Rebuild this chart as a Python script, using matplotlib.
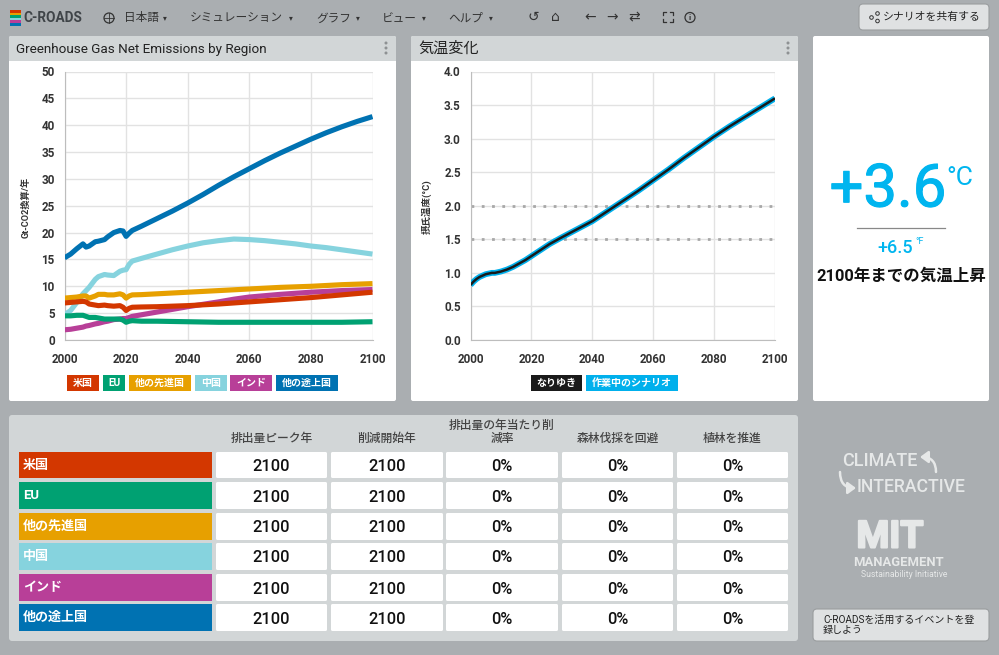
import matplotlib
matplotlib.use('Agg')
import matplotlib.pyplot as plt
import matplotlib.patheffects as pe
from matplotlib.patches import Rectangle, FancyBboxPatch, Circle, FancyArrowPatch

plt.rcParams['font.family'] = ['Roboto', 'Noto Sans CJK JP', 'DejaVu Sans']

W, H = 999, 655
BG = '#aaaeb1'
HEAD = '#d2d6d7'

# emissions data
years = [2000, 2002, 2004, 2006, 2007, 2008, 2010, 2011, 2013, 2014, 2016, 2018, 2019, 2020, 2021, 2022,
         2025, 2030, 2035, 2040, 2045, 2050, 2055, 2060, 2065, 2070, 2075, 2080, 2085, 2090, 2095, 2100]
developing = [15.3, 16.0, 17.0, 17.9, 17.3, 17.5, 18.3, 18.4, 18.7, 19.2, 20.0, 20.4, 20.3, 19.3, 19.9, 20.4,
              21.2, 22.6, 24.0, 25.5, 27.1, 28.8, 30.4, 31.9, 33.4, 34.8, 36.1, 37.4, 38.6, 39.7, 40.7, 41.6]
china = [4.7, 5.5, 7.0, 8.6, 9.2, 9.8, 11.3, 11.8, 12.2, 12.1, 12.0, 12.8, 13.0, 13.1, 14.1, 14.7,
         15.2, 16.0, 16.8, 17.5, 18.1, 18.5, 18.8, 18.7, 18.5, 18.2, 17.9, 17.5, 17.2, 16.8, 16.4, 16.0]
other_dev = [7.8, 7.9, 8.0, 8.2, 8.2, 7.8, 8.2, 8.5, 8.5, 8.4, 8.4, 8.6, 8.4, 7.8, 8.2, 8.4,
             8.45, 8.6, 8.75, 8.9, 9.05, 9.2, 9.35, 9.5, 9.65, 9.8, 9.9, 10.0, 10.15, 10.3, 10.4, 10.5]
usa = [6.9, 7.0, 7.1, 7.2, 7.1, 6.7, 6.5, 6.4, 6.5, 6.4, 6.3, 6.4, 6.1, 5.5, 5.9, 6.1,
       6.15, 6.2, 6.3, 6.4, 6.55, 6.7, 6.9, 7.1, 7.3, 7.5, 7.7, 7.9, 8.15, 8.4, 8.65, 8.9]
eu = [4.5, 4.5, 4.6, 4.6, 4.4, 4.2, 4.2, 4.1, 3.9, 3.9, 3.9, 3.9, 3.7, 3.3, 3.5, 3.6,
      3.5, 3.5, 3.45, 3.4, 3.35, 3.3, 3.3, 3.3, 3.3, 3.3, 3.3, 3.3, 3.3, 3.3, 3.35, 3.4]
india = [1.9, 2.0, 2.2, 2.4, 2.6, 2.7, 3.0, 3.1, 3.4, 3.5, 3.8, 3.9, 4.0, 4.0, 4.2, 4.4,
         4.7, 5.2, 5.7, 6.2, 6.65, 7.1, 7.6, 8.0, 8.25, 8.5, 8.7, 8.9, 9.05, 9.2, 9.3, 9.4]

# temperature data
temp_years = [2000, 2001, 2002, 2003, 2004, 2005, 2006, 2007, 2008, 2009, 2010, 2012, 2014, 2016, 2018, 2020,
              2022, 2024, 2026, 2028, 2030, 2035, 2040, 2045, 2050, 2055, 2060, 2065, 2070, 2075, 2080, 2085,
              2090, 2095, 2100]
temp = [0.82, 0.87, 0.91, 0.94, 0.96, 0.98, 0.99, 1.00, 1.00, 1.01, 1.02, 1.05, 1.09, 1.14, 1.19, 1.25,
        1.31, 1.37, 1.43, 1.48, 1.53, 1.65, 1.77, 1.92, 2.07, 2.22, 2.38, 2.54, 2.71, 2.87, 3.03, 3.18,
        3.32, 3.46, 3.60]

regions = ['米国', 'EU', '他の先進国', '中国', 'インド', '他の途上国']
region_colors = ['#d33700', '#00a172', '#e7a000', '#86d3de', '#b83f98', '#0072b2']
region_series = [usa, eu, other_dev, china, india, developing]
draw_order = [5, 3, 4, 2, 0, 1]

columns = ['排出量ピーク年', '削減開始年', '排出量の年当たり削\n減率', '森林伐採を回避', '植林を推進']
peak_year = [2100] * 6
start_year = [2100] * 6
reduction = [0] * 6
deforest = [0] * 6
afforest = [0] * 6

menus = ['日本語', 'シミュレーション', 'グラフ', 'ビュー', 'ヘルプ']
menu_x = [124, 190, 316, 382, 448]
caret_x = [165, 291, 358, 424, 491]

fig = plt.figure(figsize=(W / 100, H / 100), dpi=100, facecolor=BG)
bg = fig.add_axes([0, 0, 1, 1])
bg.set_xlim(0, W)
bg.set_ylim(H, 0)
bg.axis('off')


def box(x0, y0, x1, y1, color, rounded=2, ec='none', z=1):
    p = FancyBboxPatch((x0 + rounded, y0 + rounded), x1 - x0 - 2 * rounded, y1 - y0 - 2 * rounded,
                       boxstyle=f'round,pad={rounded}', fc=color, ec=ec, lw=0.8, zorder=z)
    bg.add_patch(p)


def axes_px(x0, y0, x1, y1):
    return fig.add_axes([x0 / W, 1 - y1 / H, (x1 - x0) / W, (y1 - y0) / H])


def style_chart(ax, ylim, yticks, ylabels, ylabel, label_x, label_size):
    ax.set_xlim(2000, 2100)
    ax.set_ylim(*ylim)
    ax.set_xticks(range(2000, 2101, 20))
    ax.set_yticks(yticks, ylabels)
    ax.grid(True, color='#e2e2e2', lw=1)
    ax.set_axisbelow(True)
    ax.patch.set_alpha(0)
    for s in ['top', 'right']:
        ax.spines[s].set_visible(False)
    for s in ['left', 'bottom']:
        ax.spines[s].set_color('#bdbdbd')
    ax.tick_params(length=0, labelsize=8.4, labelcolor='#333333')
    ax.tick_params(axis='x', pad=9.3)
    ax.tick_params(axis='y', pad=7)
    for t in ax.get_xticklabels() + ax.get_yticklabels():
        t.set_fontweight('bold')
    bg.text(label_x, 207, ylabel, rotation=90, ha='center', va='center', fontsize=label_size, color='#333333',
            fontweight='bold')


def legend_row(items, y0=375, y1=391):
    for x0, x1, label, color in items:
        bg.add_patch(Rectangle((x0, y0), x1 - x0, y1 - y0, fc=color, ec='none', zorder=3))
        bg.text((x0 + x1) / 2, (y0 + y1) / 2, label, ha='center', va='center', color='white',
                fontsize=7.2, fontweight='bold', zorder=4)


# top bar
for i, c in enumerate(['#d33700', '#e7a000', '#00a172', '#86d3de', '#b83f98', '#0072b2']):
    bg.add_patch(Rectangle((10, 10 + i * 2.6), 11, 2.6, fc=c, ec='none'))
bg.text(23, 17.5, 'C-ROADS', fontsize=9.8, color='#3f4448', va='center', fontweight='bold')
bg.add_patch(Circle((109, 18), 5, fc='none', ec='#333333', lw=0.9))
bg.plot([104, 114], [18, 18], color='#333333', lw=0.6)
bg.plot([109, 109], [13, 23], color='#333333', lw=0.6)
for x, cx, label in zip(menu_x, caret_x, menus):
    bg.text(x, 18, label, fontsize=8.4, color='#333333', va='center')
    bg.text(cx, 18, '▾', fontsize=5.5, color='#333333', va='center', ha='center', family='DejaVu Sans')

# toolbar icons
for x, label in zip([533, 555, 590, 612, 634], ['↺', '⌂', '←', '→', '⇄']):
    bg.text(x, 17, label, fontsize=10, ha='center', va='center', color='#333333', family='DejaVu Sans')
for sx in (-1, 1):
    for sy in (-1, 1):
        bg.plot([668 + sx * 5, 668 + sx * 5, 668 + sx * 2], [17 + sy * 2, 17 + sy * 5, 17 + sy * 5],
                color='#333333', lw=0.9)
bg.add_patch(Circle((690, 17.5), 5, fc='none', ec='#333333', lw=0.9))
bg.text(690, 17.5, 'i', fontsize=6, ha='center', va='center', color='#333333', fontweight='bold')

box(859, 4, 989, 30, '#dfe1e2', rounded=4, ec='#9a9d9f')
bg.add_patch(Circle((871.5, 17.5), 1.8, fc='none', ec='#333333', lw=0.7, zorder=3))
bg.add_patch(Circle((877.5, 13.5), 1.8, fc='none', ec='#333333', lw=0.7, zorder=3))
bg.add_patch(Circle((877.5, 21), 1.8, fc='none', ec='#333333', lw=0.7, zorder=3))
bg.text(932, 17, 'シナリオを共有する', fontsize=7.8, color='#222222', ha='center', va='center', zorder=3)

# chart panels
for x0, x1, title, fs in [(9, 396, 'Greenhouse Gas Net Emissions by Region', 9.7), (411, 798, '気温変化', 10.9)]:
    box(x0, 36, x1, 401, 'white', rounded=2)
    box(x0, 36, x1, 60, HEAD, rounded=2, z=1.1)
    bg.add_patch(Rectangle((x0, 56), x1 - x0, 5, fc=HEAD, ec='none', zorder=1.1))
    bg.text(x0 + 7, 49, title, fontsize=fs, color='#222222', va='center', zorder=2)
    for dy in [43, 48, 53]:
        bg.add_patch(Circle((x1 - 10, dy), 1.5, fc='#8e9193', ec='none', zorder=2))

# emissions chart
ax1 = axes_px(64.5, 71.5, 372.5, 340)
style_chart(ax1, (0, 50), range(0, 51, 5), [str(v) for v in range(0, 51, 5)], 'Gt-CO2換算/年', 26, 6.6)
for i in draw_order:
    ax1.plot(years, region_series[i], color=region_colors[i], lw=3.7, solid_capstyle='butt', zorder=3)

legend_row([(67, 99, '米国', region_colors[0]), (103, 125, 'EU', region_colors[1]),
            (129, 191, '他の先進国', region_colors[2]), (195, 227, '中国', region_colors[3]),
            (230, 272, 'インド', region_colors[4]), (276, 338, '他の途上国', region_colors[5])])

# temperature chart
ax2 = axes_px(470.5, 71.5, 775, 340)
style_chart(ax2, (0, 4), [0, 0.5, 1, 1.5, 2, 2.5, 3, 3.5, 4],
            ['0.0', '0.5', '1.0', '1.5', '2.0', '2.5', '3.0', '3.5', '4.0'], '摂氏温度(°C)', 427, 6.8)
ax2.axhline(1.5, color='#a8a8a8', lw=2, ls=(0, (1, 2.7)), zorder=2)
ax2.axhline(2.0, color='#a8a8a8', lw=2, ls=(0, (1, 2.7)), zorder=2)
ax2.plot(temp_years, temp, color='#00b0ec', lw=4.2, solid_capstyle='butt', zorder=3)
ax2.plot(temp_years, temp, color='#1a1a1a', lw=1.8, solid_capstyle='butt', zorder=4)
legend_row([(531, 582, 'なりゆき', '#1a1a1a'), (586, 678, '作業中のシナリオ', '#00b0ec')])

# big temperature panel
box(813, 36, 989, 401, 'white', rounded=2)
big = bg.text(888, 190, '+3.6', fontsize=43, color='#00b5ef', ha='center', va='center', zorder=3)
big.set_path_effects([pe.withStroke(linewidth=0.8, foreground='#00b5ef')])
bg.text(960, 178, '°C', fontsize=19, color='#00b5ef', ha='center', va='center', zorder=3)
bg.plot([857, 945], [227.5, 227.5], color='#888888', lw=0.9, zorder=3)
bg.text(895, 248, '+6.5', fontsize=13, color='#00b5ef', ha='center', va='center', fontweight='medium', zorder=3)
bg.text(920, 241, '°F', fontsize=6.5, color='#00b5ef', ha='center', va='center', zorder=3)
bg.text(901, 276, '2100年までの気温上昇', fontsize=11.9, color='#111111', ha='center', va='center',
        fontweight='bold', zorder=3)

# table panel
box(9, 415, 798, 641, HEAD, rounded=3)
col_x = [(216, 327), (331, 443), (446, 558), (562, 673), (677, 788)]
row_y = [(452, 478), (482, 509), (513, 540), (543, 570), (574, 601), (604, 631)]
for (x0, x1), name in zip(col_x, columns):
    bg.text((x0 + x1) / 2, 445, name, ha='center', va='bottom', fontsize=8.5, color='#444444',
            fontweight='medium', linespacing=1.05, zorder=3)
values = [peak_year, start_year, reduction, deforest, afforest]
for r, (y0, y1) in enumerate(row_y):
    bg.add_patch(Rectangle((19, y0), 193, y1 - y0, fc=region_colors[r], ec='none', zorder=2))
    bg.text(23, (y0 + y1) / 2, regions[r], color='white', fontsize=9.4, fontweight='bold', va='center', zorder=3)
    for c, (x0, x1) in enumerate(col_x):
        box(x0, y0, x1, y1, 'white', rounded=1.5, z=2)
        txt = str(values[c][r]) if c < 2 else f'{values[c][r]}%'
        bg.text((x0 + x1) / 2, (y0 + y1) / 2 + 1.5, txt, ha='center', va='center', fontsize=11.8, color='#111111',
                fontweight='medium', zorder=3)

# logos
LOGO = '#e6e8e8'
bg.text(880, 461, 'CLIMATE', fontsize=13, color=LOGO, ha='center', va='center', fontweight='medium')
bg.text(911.5, 487, 'INTERACTIVE', fontsize=12.7, color=LOGO, ha='center', va='center', fontweight='medium')
for tail, head in [((936, 472), (920, 457)), ((840, 472), (856, 488))]:
    bg.add_patch(FancyArrowPatch(tail, head, arrowstyle='-|>,head_length=0.3,head_width=0.22', mutation_scale=16,
                                 color=LOGO, lw=1.8, connectionstyle='angle3,angleA=90,angleB=0',
                                 shrinkA=0, shrinkB=0))
mit = bg.text(890, 537, 'MIT', fontsize=27, color=LOGO, ha='center', va='center', fontweight='bold')
mit.set_path_effects([pe.withStroke(linewidth=1.5, foreground=LOGO)])
bg.text(898, 563, 'MANAGEMENT', fontsize=9.4, color=LOGO, ha='center', va='center', fontweight='bold')
bg.text(904, 574.5, 'Sustainability Initiative', fontsize=6.2, color=LOGO, ha='center', va='center')

# event button
box(813, 609, 989, 641, '#dfe1e2', rounded=4, ec='#9a9d9f')
bg.text(823, 625, 'C-ROADSを活用するイベントを登\n録しよう', fontsize=7.2, color='#222222', va='center',
        linespacing=1.0, zorder=3)

fig.savefig('out.png', dpi=100, facecolor=BG)
